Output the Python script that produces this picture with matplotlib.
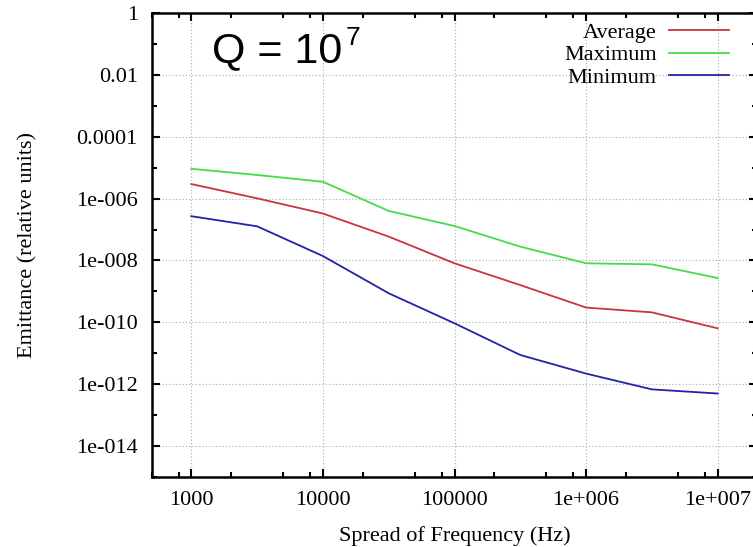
import matplotlib
matplotlib.use('Agg')
import matplotlib.pyplot as plt
from matplotlib.ticker import FixedLocator, FixedFormatter, NullFormatter

# Data
freq = [1000, 3162, 10000, 31623, 100000, 316228, 1000000, 3162278, 10000000]
average = [2.95e-6, 1.02e-6, 3.3e-7, 5.9e-8, 8.1e-9, 1.6e-9, 3.0e-10, 2.1e-10, 6.4e-11]
maximum = [9.2e-6, 5.8e-6, 3.5e-6, 4.0e-7, 1.3e-7, 2.8e-8, 8.1e-9, 7.5e-9, 2.7e-9]
minimum = [2.7e-7, 1.27e-7, 1.39e-8, 8.7e-10, 9.3e-11, 8.8e-12, 2.2e-12, 6.8e-13, 5.0e-13]

xticks = [1e3, 1e4, 1e5, 1e6, 1e7]
xtick_labels = ['1000', '10000', '100000', '1e+006', '1e+007']
yticks = [1, 1e-2, 1e-4, 1e-6, 1e-8, 1e-10, 1e-12, 1e-14]
ytick_labels = ['1', '0.01', '0.0001', '1e-006', '1e-008', '1e-010', '1e-012', '1e-014']

serif = 'Liberation Serif'

fig = plt.figure(figsize=(7.53, 5.47), dpi=100)
# axes extends a bit past the right edge (reference is cropped there)
ax = fig.add_axes([151.7 / 753, 70 / 547, 605.6 / 753, 464 / 547])

ax.plot(freq, average, color='#cc3340', lw=1.3, label='Average')
ax.plot(freq, maximum, color='#44dd44', lw=1.3, label='Maximum')
ax.plot(freq, minimum, color='#2222a8', lw=1.3, label='Minimum')

ax.set_xscale('log')
ax.set_yscale('log')
ax.set_xlim(500, 2e7)
ax.set_ylim(1e-15, 1)

ax.xaxis.set_major_locator(FixedLocator(xticks))
ax.xaxis.set_major_formatter(FixedFormatter(xtick_labels))
xminor = [m * d for d in [100, 1000, 10000, 100000, 1000000, 10000000] for m in (2, 5, 8)]
ax.xaxis.set_minor_locator(FixedLocator(xminor))
ax.xaxis.set_minor_formatter(NullFormatter())

ax.yaxis.set_major_locator(FixedLocator(yticks))
ax.yaxis.set_major_formatter(FixedFormatter(ytick_labels))
ax.yaxis.set_minor_locator(FixedLocator([10.0 ** (-k) for k in range(1, 16, 2)]))
ax.yaxis.set_minor_formatter(NullFormatter())

ax.tick_params(which='both', direction='in', top=True, right=True, width=1.5, color='black')
ax.tick_params(which='major', length=6)
ax.tick_params(which='minor', length=3.5)
ax.tick_params(axis='x', which='major', pad=10)
ax.tick_params(axis='y', which='major', pad=10)
for lab in ax.get_xticklabels() + ax.get_yticklabels():
    lab.set_fontfamily(serif)
    lab.set_fontsize(16)

for s in ax.spines.values():
    s.set_linewidth(1.8)

ax.grid(True, which='major', linestyle=(0, (1, 2)), color='#aaaaaa', lw=0.8)

ax.set_xlabel('Spread of Frequency (Hz)', fontfamily=serif, fontsize=16, labelpad=12)
ax.set_ylabel('Emittance (relative units)', fontfamily=serif, fontsize=16, labelpad=28)

leg = fig.legend(loc='upper right', bbox_to_anchor=(729 / 753, 1 - 22 / 547),
                 bbox_transform=fig.transFigure, frameon=False, markerfirst=False,
                 prop={'family': serif, 'size': 16}, handlelength=2.7,
                 handletextpad=0.55, labelspacing=0.1, borderpad=0, borderaxespad=0)

# Q = 10^7 annotation, exponent as its own smaller text
fig.text(212 / 753, 1 - 62 / 547, 'Q = 10', fontfamily='Liberation Sans',
         fontsize=31, ha='left', va='baseline')
fig.text(346 / 753, 1 - 45 / 547, '7', fontfamily='Liberation Sans',
         fontsize=19, ha='left', va='baseline')

fig.savefig('out.png', dpi=100)
